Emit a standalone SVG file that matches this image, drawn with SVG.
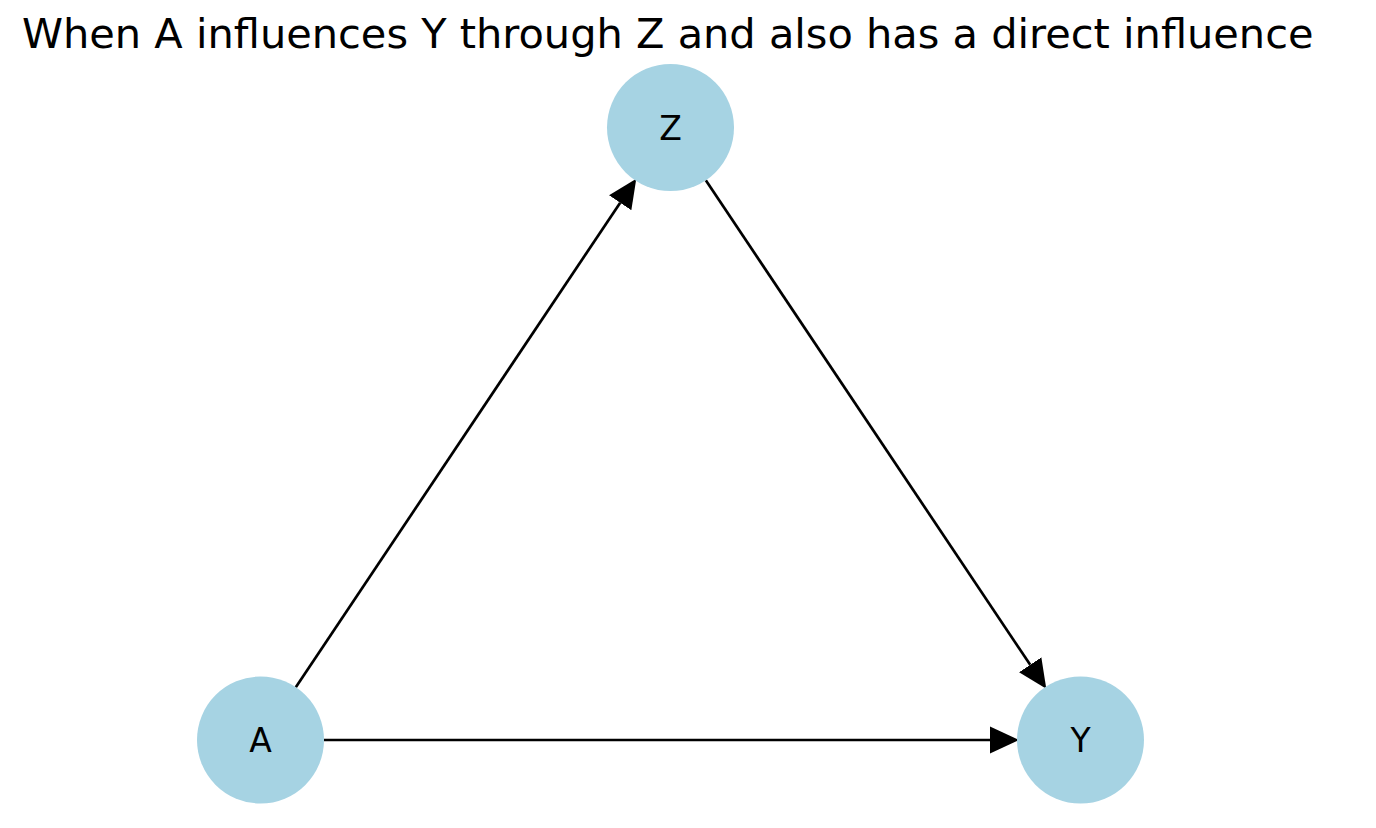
<svg xmlns="http://www.w3.org/2000/svg" width="1376" height="828" viewBox="0 0 1376 828">
<style>
.title{font-family:"DejaVu Sans","Liberation Sans",sans-serif;font-size:41.5px;fill:#000}
.node circle{fill:#a6d3e3}
.node text{font-family:"DejaVu Sans","Liberation Sans",sans-serif;font-size:33px;fill:#000;text-anchor:middle}
.edge{stroke:#000;stroke-width:2.7;fill:none;marker-end:url(#arr)}
</style>
<defs>
<marker id="arr" markerUnits="userSpaceOnUse" markerWidth="30" markerHeight="30" viewBox="0 -13 28 26" refX="0" refY="0" orient="auto">
<path d="M0,-12.5 L27,0 L0,12.5 z" fill="#000"/>
</marker>
</defs>
<rect width="1376" height="828" fill="#fff"/>
<text class="title" x="22" y="48">When A influences Y through Z and also has a direct influence</text>
<g id="connectors">
<line class="edge" x1="295.8" y1="687.2" x2="620.2" y2="202.7"/>
<line class="edge" x1="705.8" y1="180.3" x2="1030.2" y2="664.8"/>
<line class="edge" x1="324" y1="740" x2="990" y2="740"/>
</g>
<g id="node-Z" class="node"><circle cx="670.5" cy="127.5" r="63.5"/><text x="670.5" y="139.5">Z</text></g>
<g id="node-A" class="node"><circle cx="260.5" cy="740" r="63.5"/><text x="260.5" y="752">A</text></g>
<g id="node-Y" class="node"><circle cx="1080.5" cy="740" r="63.5"/><text x="1080.5" y="752">Y</text></g>
</svg>
